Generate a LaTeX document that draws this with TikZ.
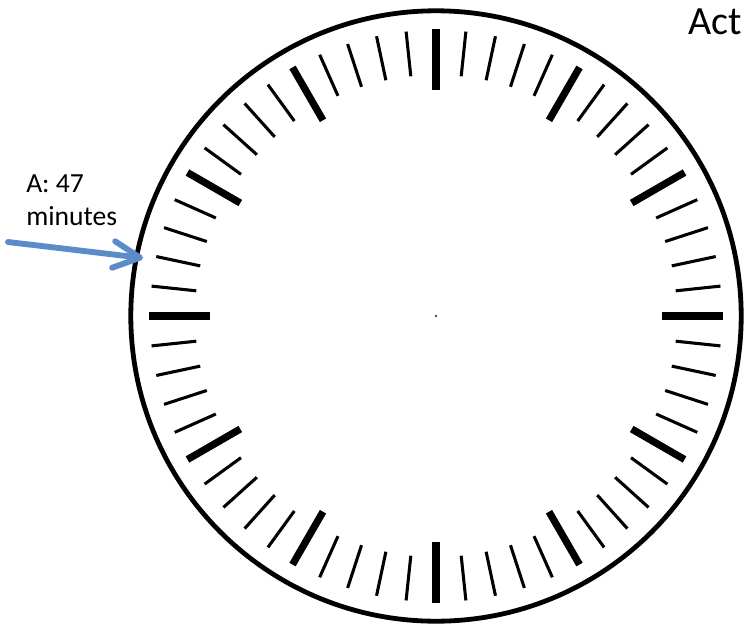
\documentclass[tikz,border=0pt]{standalone}
\usepackage{fontspec}
\setmainfont{Carlito}
\usetikzlibrary{arrows.meta}
\definecolor{arrowblue}{HTML}{5B8CC8}
\begin{document}
\begin{tikzpicture}[x=0.75pt,y=-0.75pt,
  rim/.style={line width=3.6pt},
  majortick/.style={line width=5.4pt},
  minortick/.style={line width=2.3pt},
  pointer/.style={draw=arrowblue,line width=4.4pt,line cap=round,
    -{Straight Barb[length=20pt,width=20pt,line cap=round,line join=round]}},
  labeltext/.style={inner sep=0pt,align=left,font=\fontsize{20.7pt}{24.75pt}\selectfont},
  titletext/.style={inner sep=0pt,font=\fontsize{30pt}{36pt}\selectfont}]
\useasboundingbox (0,0) rectangle (744,629);
\coordinate (c) at (436,316);
\draw[rim] (c) circle[radius=228.9pt];
\foreach \i in {0,...,59}{
  \pgfmathsetmacro\a{90-6*\i}
  \pgfmathtruncatemacro\m{mod(\i,5)}
  \ifnum\m=0
    \draw[majortick,shift={(c)}] (\a:169.5pt) -- (\a:215.25pt);
  \else
    \draw[minortick,shift={(c)}] (\a:180.75pt) -- (\a:214.5pt);
  \fi
}
\fill[black!70] (c) circle[radius=1.1pt];
\node[labeltext,anchor=base west] (label) at (26,225) {A: 47\\minutes};
\node[titletext,anchor=base east] (title) at (742,34) {Act};
\coordinate (tail) at (8,242);
\coordinate (tip) at (143,258);
\draw[pointer] (tail) -- (tip);
\end{tikzpicture}
\end{document}
